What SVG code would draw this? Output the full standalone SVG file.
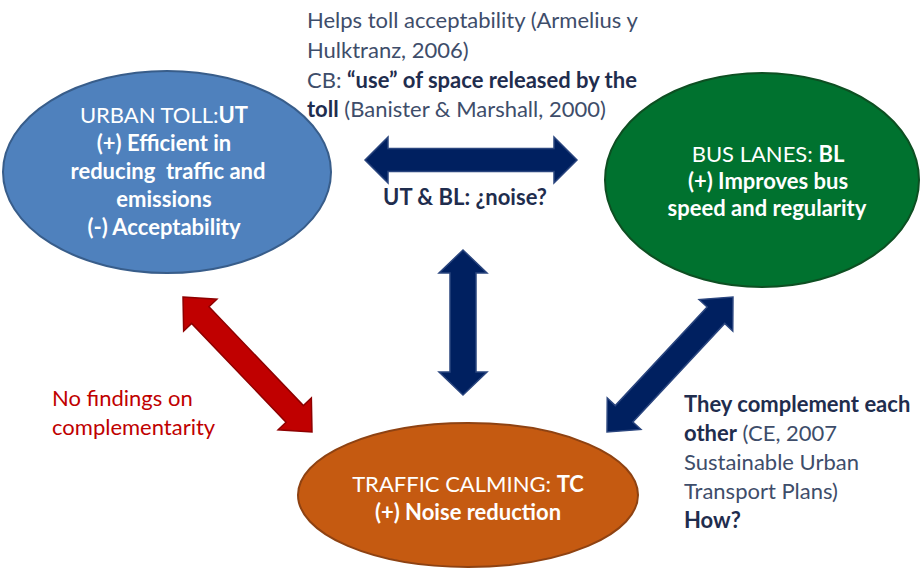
<svg xmlns="http://www.w3.org/2000/svg" width="922" height="572" viewBox="0 0 922 572">
<style>
text{font-family:Lato,"Liberation Sans",sans-serif;font-size:22px}
.w{fill:#fff;text-anchor:middle}
.b{font-weight:bold}
.ann{fill:#3E4D6A}
.annb{fill:#1F2D4E;font-weight:bold}
.red{fill:#C00000}
.blue{fill:#002060;stroke:#2A457E;stroke-width:1.5}
.redarr{fill:#C00000;stroke:#8E0000;stroke-width:1.5}
</style>
<rect width="922" height="572" fill="#fff"/>
<g id="connectors">
<polygon class="blue" points="365,160 388,137 388,148.5 554,148.5 554,137 577,160 554,183 554,171.5 388,171.5 388,183"/>
<polygon class="blue" points="463,250 487,273 476,273 476,372 487,372 463,395 439,372 450,372 450,273 439,273"/>
<polygon class="redarr" transform="translate(247.5,364.5) rotate(46.3)" points="-93.35,0 -68.35,-23 -68.35,-12 68.35,-12 68.35,-23 93.35,0 68.35,23 68.35,12 -68.35,12 -68.35,23"/>
<polygon class="blue" transform="translate(670,364.5) rotate(-47)" points="-92.35,0 -67.35,-23 -67.35,-12 67.35,-12 67.35,-23 92.35,0 67.35,23 67.35,12 -67.35,12 -67.35,23"/>
</g>
<g id="UT">
<ellipse cx="167" cy="172" rx="164" ry="101" fill="#4F81BD" stroke="#385D8A" stroke-width="2"/>
<text class="w" x="164" y="123">URBAN TOLL:<tspan class="b">UT</tspan></text>
<text class="w b" x="164" y="151">(+) Efficient in</text>
<text class="w b" x="168" y="179">reducing&#160; traffic and</text>
<text class="w b" x="164" y="207">emissions</text>
<text class="w b" x="164" y="235">(-) Acceptability</text>
</g>
<g id="BL">
<ellipse cx="762" cy="180" rx="157" ry="107" fill="#00722F" stroke="#0D4F22" stroke-width="2"/>
<text class="w" x="768" y="162">BUS LANES: <tspan class="b">BL</tspan></text>
<text class="w b" x="768" y="189">(+) Improves bus</text>
<text class="w b" x="767" y="216">speed and regularity</text>
</g>
<g id="TC">
<ellipse cx="468" cy="495" rx="170" ry="72" fill="#C55A11" stroke="#8E4212" stroke-width="2"/>
<text class="w" x="468" y="492">TRAFFIC CALMING: <tspan class="b">TC</tspan></text>
<text class="w b" x="468" y="520">(+) Noise reduction</text>
</g>
<g id="labels">
<text class="ann" x="307" y="28">Helps toll acceptability (Armelius y</text>
<text class="ann" x="307" y="58">Hulktranz, 2006)</text>
<text class="ann" x="307" y="88">CB: <tspan class="annb">“use” of space released by the</tspan></text>
<text class="ann" x="307" y="117"><tspan class="annb">toll</tspan> (Banister &amp; Marshall, 2000)</text>
<text class="annb" x="465" y="205" text-anchor="middle">UT &amp; BL: ¿noise?</text>
<text class="red" x="52" y="406">No findings on</text>
<text class="red" x="52" y="435">complementarity</text>
<text class="annb" x="684" y="412">They complement each</text>
<text class="ann" x="684" y="441"><tspan class="annb">other</tspan> (CE, 2007</text>
<text class="ann" x="684" y="470">Sustainable Urban</text>
<text class="ann" x="684" y="499">Transport Plans)</text>
<text class="annb" x="684" y="528">How?</text>
</g>
</svg>
